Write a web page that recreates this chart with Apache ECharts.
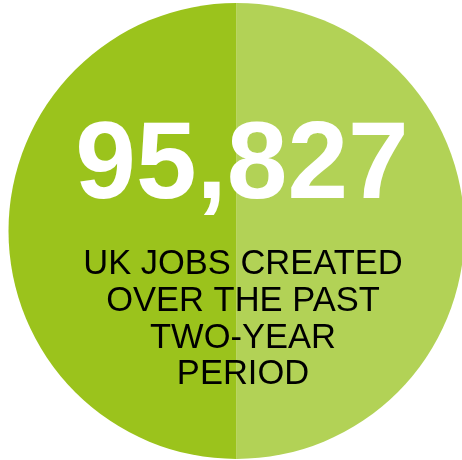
<!DOCTYPE html>
<html>
<head>
<meta charset="utf-8">
<style>html,body{margin:0;padding:0;background:#fff;}#c{width:462px;height:460px;}</style>
<script src="https://cdn.jsdelivr.net/npm/echarts@6/dist/echarts.min.js"></script>
</head>
<body>
<div id="c"></div>
<script>
var halves = ['Right half', 'Left half'];
var halfValues = [50, 50];
var halfColors = ['#b2d256', '#9bc31c'];
var headline = '95,827';
var captionLines = ['UK JOBS CREATED', 'OVER THE PAST', 'TWO-YEAR', 'PERIOD'];

var chart = echarts.init(document.getElementById('c'), null, {renderer: 'canvas'});
var graphics = [{
  type: 'text',
  z: 100,
  style: {
    text: headline, x: 242, y: 168, textAlign: 'center', textVerticalAlign: 'middle',
    fill: '#ffffff', fontFamily: 'Liberation Sans', fontWeight: 'bold', fontSize: 109
  }
}];
captionLines.forEach(function (t, i) {
  graphics.push({
    type: 'text',
    z: 100,
    style: {
      text: t, x: 243, y: 264.5 + i * 36.8, textAlign: 'center', textVerticalAlign: 'middle',
      fill: '#000000', fontFamily: 'Liberation Sans', fontSize: 34.5
    }
  });
});
chart.setOption({
  animation: false,
  series: [{
    type: 'pie',
    center: [236.5, 231],
    radius: 228,
    startAngle: 90,
    clockwise: true,
    silent: true,
    z: 1,
    label: {show: false},
    labelLine: {show: false},
    data: halves.map(function (n, i) {
      return {name: n, value: halfValues[i], itemStyle: {color: halfColors[i]}};
    })
  }],
  graphic: {elements: graphics}
});
</script>
</body>
</html>
